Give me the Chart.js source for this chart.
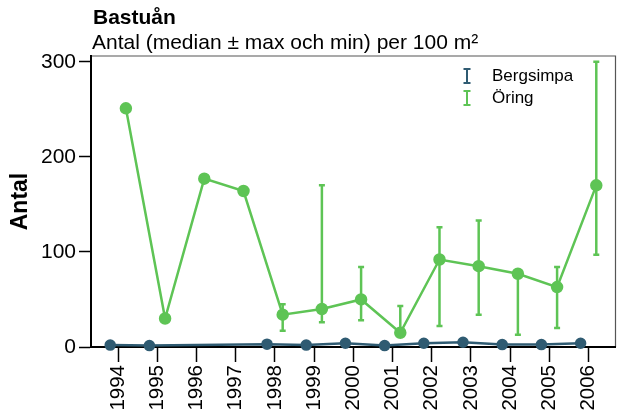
<!DOCTYPE html>
<html>
<head>
<meta charset="utf-8">
<script src="https://cdn.jsdelivr.net/npm/chart.js@4.4.1/dist/chart.umd.min.js"></script>
<style>
  html, body { margin: 0; padding: 0; background: #fff; }
  #wrap { width: 623px; height: 414px; }
</style>
</head>
<body>
<div id="wrap"><canvas id="chart" width="623" height="414"></canvas></div>
<script>
const TITLE = 'Bastuån';
const SUBTITLE = 'Antal (median ± max och min) per 100 m²';
const Y_TITLE = 'Antal';

const YEARS = [1994, 1995, 1996, 1997, 1998, 1999, 2000, 2001, 2002, 2003, 2004, 2005, 2006];
const Y_TICKS = [0, 100, 200, 300];

const BERG_YEARS = [1994, 1995, 1998, 1999, 2000, 2001, 2002, 2003, 2004, 2005, 2006];
const BERG_MEDIAN = [2, 1.5, 3, 2, 4, 1.5, 4, 5, 2.5, 2.5, 4];

const ORING_MEDIAN = [251, 30, 177, 164, 34, 40, 50, 15, 92, 85, 77, 63, 170];
const ORING_MAX = [null, null, null, null, 45, 170, 84, 43, 126, 133, 77, 84, 300];
const ORING_MIN = [null, null, null, null, 17, 26, 28, 15, 22, 34, 13, 20, 97];

const BERG_COLOR = '#2f5b72';
const ORING_COLOR = '#5ec455';
const DODGE = 0.2;

const FONT = 'Liberation Sans, Arial, sans-serif';

const bergPoints = BERG_YEARS.map((year, i) => ({ x: year - DODGE, y: BERG_MEDIAN[i] }));
const oringPoints = YEARS.map((year, i) => ({
  x: year + DODGE,
  y: ORING_MEDIAN[i],
  max: ORING_MAX[i],
  min: ORING_MIN[i]
}));

// error bars, drawn under the lines
const errorBars = {
  id: 'errorBars',
  beforeDatasetsDraw(chart) {
    const { ctx, scales: { x, y } } = chart;
    chart.data.datasets.forEach((ds) => {
      ctx.save();
      ctx.strokeStyle = ds.borderColor;
      ctx.lineWidth = 2.5;
      ds.data.forEach((p) => {
        if (p.max == null || p.min == null) return;
        const px = x.getPixelForValue(p.x);
        const top = y.getPixelForValue(p.max);
        const bottom = y.getPixelForValue(p.min);
        ctx.beginPath();
        ctx.moveTo(px, top);
        ctx.lineTo(px, bottom);
        ctx.moveTo(px - 3, top);
        ctx.lineTo(px + 3, top);
        ctx.moveTo(px - 3, bottom);
        ctx.lineTo(px + 3, bottom);
        ctx.stroke();
      });
      ctx.restore();
    });
  }
};

// frame, title, subtitle and legend
const decorations = {
  id: 'decorations',
  beforeDraw(chart) {
    const { ctx, chartArea: a } = chart;
    ctx.save();
    ctx.strokeStyle = '#555';
    ctx.lineWidth = 1.2;
    ctx.beginPath();
    ctx.moveTo(a.left, a.top);
    ctx.lineTo(a.right, a.top);
    ctx.lineTo(a.right, a.bottom);
    ctx.stroke();
    ctx.restore();
  },
  afterDraw(chart) {
    const { ctx, chartArea: a } = chart;
    ctx.save();
    ctx.fillStyle = '#000';
    ctx.textBaseline = 'middle';
    ctx.textAlign = 'left';
    ctx.font = `bold 21px ${FONT}`;
    ctx.fillText(TITLE, a.left + 2, 18);
    ctx.font = `21px ${FONT}`;
    ctx.fillText(SUBTITLE, a.left + 1, 43);

    const items = chart.data.datasets;
    ctx.font = `17px ${FONT}`;
    items.forEach((ds, i) => {
      const cy = 76 + i * 22;
      const cx = 467;
      ctx.strokeStyle = ds.borderColor;
      ctx.lineWidth = 2;
      ctx.beginPath();
      ctx.moveTo(cx, cy - 7);
      ctx.lineTo(cx, cy + 7);
      ctx.moveTo(cx - 3.5, cy - 7);
      ctx.lineTo(cx + 3.5, cy - 7);
      ctx.moveTo(cx - 3.5, cy + 7);
      ctx.lineTo(cx + 3.5, cy + 7);
      ctx.stroke();
      ctx.fillStyle = '#000';
      ctx.fillText(ds.label, 492, cy);
    });
    ctx.restore();
  }
};

new Chart(document.getElementById('chart').getContext('2d'), {
  type: 'line',
  data: {
    datasets: [
      {
        label: 'Bergsimpa',
        data: bergPoints,
        borderColor: BERG_COLOR,
        backgroundColor: BERG_COLOR,
        borderWidth: 2.5,
        pointRadius: 4.5,
        pointHoverRadius: 4.5,
        tension: 0,
        clip: false
      },
      {
        label: 'Öring',
        data: oringPoints,
        borderColor: ORING_COLOR,
        backgroundColor: ORING_COLOR,
        borderWidth: 2.5,
        pointRadius: 5,
        pointHoverRadius: 5,
        tension: 0,
        clip: false
      }
    ]
  },
  options: {
    responsive: false,
    animation: false,
    devicePixelRatio: 1,
    layout: { padding: { top: 56, right: 6, left: 0, bottom: 0 } },
    plugins: {
      legend: { display: false },
      tooltip: { enabled: false },
      title: { display: false }
    },
    scales: {
      x: {
        type: 'linear',
        min: 1993.31,
        max: 2006.69,
        afterBuildTicks: (scale) => { scale.ticks = YEARS.map((v) => ({ value: v })); },
        afterFit: (scale) => { scale.height = 67; },
        ticks: {
          autoSkip: false,
          minRotation: 90,
          maxRotation: 90,
          padding: 3,
          color: '#000',
          font: { family: FONT, size: 20.5 },
          callback: (value) => String(value)
        },
        grid: {
          drawOnChartArea: false,
          drawTicks: true,
          tickLength: 15,
          tickColor: '#000',
          tickWidth: 1.5
        },
        border: { color: '#000', width: 2 }
      },
      y: {
        min: 0,
        max: 306,
        afterBuildTicks: (scale) => { scale.ticks = Y_TICKS.map((v) => ({ value: v })); },
        afterFit: (scale) => { scale.width = 91; },
        ticks: {
          padding: 3,
          color: '#000',
          font: { family: FONT, size: 21 },
          callback: (value) => String(value)
        },
        title: {
          display: true,
          text: Y_TITLE,
          color: '#000',
          font: { family: FONT, size: 23, weight: 'bold' },
          padding: { top: 7, bottom: 0 }
        },
        grid: {
          drawOnChartArea: false,
          drawTicks: true,
          tickLength: 12,
          tickColor: '#000',
          tickWidth: 1.5
        },
        border: { color: '#000', width: 2 }
      }
    }
  },
  plugins: [errorBars, decorations]
});
</script>
</body>
</html>
